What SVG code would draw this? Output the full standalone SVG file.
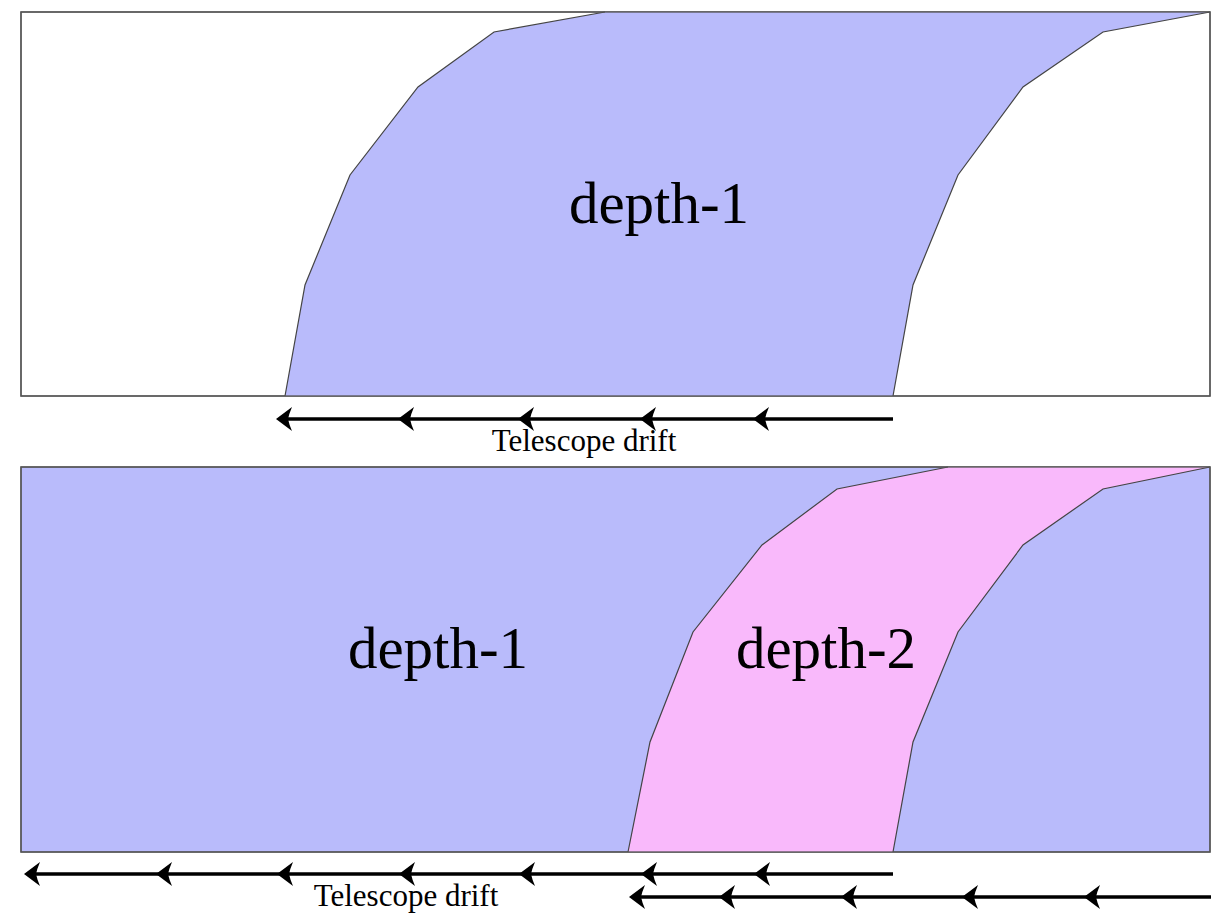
<svg xmlns="http://www.w3.org/2000/svg" xmlns:xlink="http://www.w3.org/1999/xlink" width="1220" height="914" viewBox="0 0 1220 914">
<style>
.panel{stroke:#555;stroke-width:1.3}
.blue{fill:#b9bbfb}
.pink{fill:#f9b9fb}
.edge{stroke:#444;stroke-width:1.2;fill:none}
.big{font-family:"Liberation Serif","Times New Roman",serif;font-size:59px;fill:#000;text-anchor:middle}
.small{font-family:"Liberation Serif","Times New Roman",serif;font-size:31px;fill:#000;text-anchor:middle}
.shaft{stroke:#000;stroke-width:3.5;fill:none}
.head{fill:#000}
</style>
<defs>
<path id="ah" d="M-1,0 Q7,-6 15,-12 Q12,-5 11,0 Q12,5 15,12 Q7,6 -1,0Z"/>
</defs>
<rect width="1220" height="914" fill="#fff"/>
<g id="top-panel">
<rect class="panel" x="21" y="12" width="1189" height="384" fill="#fff"/>
<polygon class="blue" points="285,396 305,285 350,175 418,87 494,32 605,12 1210,12 1103,32 1023,87 958,175 913,285 893,396"/>
<polyline class="edge" points="285,396 305,285 350,175 418,87 494,32 605,12"/>
<polyline class="edge" points="1210,12 1103,32 1023,87 958,175 913,285 893,396"/>
<rect x="21" y="12" width="1189" height="384" fill="none" class="panel"/>
<text class="big" x="659" y="223">depth-1</text>
</g>
<g id="bottom-panel">
<rect class="panel blue" x="21" y="467" width="1189" height="385"/>
<polygon class="pink" points="628,852 650,742 693,632 762,545 837,489 948,467 1210,467 1103,489 1023,545 958,632 913,742 893,852"/>
<polyline class="edge" points="628,852 650,742 693,632 762,545 837,489 948,467"/>
<polyline class="edge" points="1210,467 1103,489 1023,545 958,632 913,742 893,852"/>
<rect x="21" y="467" width="1189" height="385" fill="none" class="panel"/>
<text class="big" x="438" y="668">depth-1</text>
<text class="big" x="826" y="668">depth-2</text>
</g>
<g id="connectors">
<line class="shaft" x1="893" y1="419" x2="282" y2="419"/>
<g class="head">
<use xlink:href="#ah" x="277" y="419"/>
<use xlink:href="#ah" x="399" y="419"/>
<use xlink:href="#ah" x="519" y="419"/>
<use xlink:href="#ah" x="641" y="419"/>
<use xlink:href="#ah" x="754" y="419"/>
</g>
<line class="shaft" x1="893" y1="874" x2="29" y2="874"/>
<g class="head">
<use xlink:href="#ah" x="25" y="874"/>
<use xlink:href="#ah" x="157" y="874"/>
<use xlink:href="#ah" x="278" y="874"/>
<use xlink:href="#ah" x="400" y="874"/>
<use xlink:href="#ah" x="520" y="874"/>
<use xlink:href="#ah" x="642" y="874"/>
<use xlink:href="#ah" x="755" y="874"/>
</g>
<line class="shaft" x1="1211" y1="897" x2="634" y2="897"/>
<g class="head">
<use xlink:href="#ah" x="630" y="897"/>
<use xlink:href="#ah" x="720" y="897"/>
<use xlink:href="#ah" x="842" y="897"/>
<use xlink:href="#ah" x="963" y="897"/>
<use xlink:href="#ah" x="1085" y="897"/>
</g>
</g>
<g id="labels">
<text class="small" x="584" y="451">Telescope drift</text>
<text class="small" x="406" y="906">Telescope drift</text>
</g>
</svg>
